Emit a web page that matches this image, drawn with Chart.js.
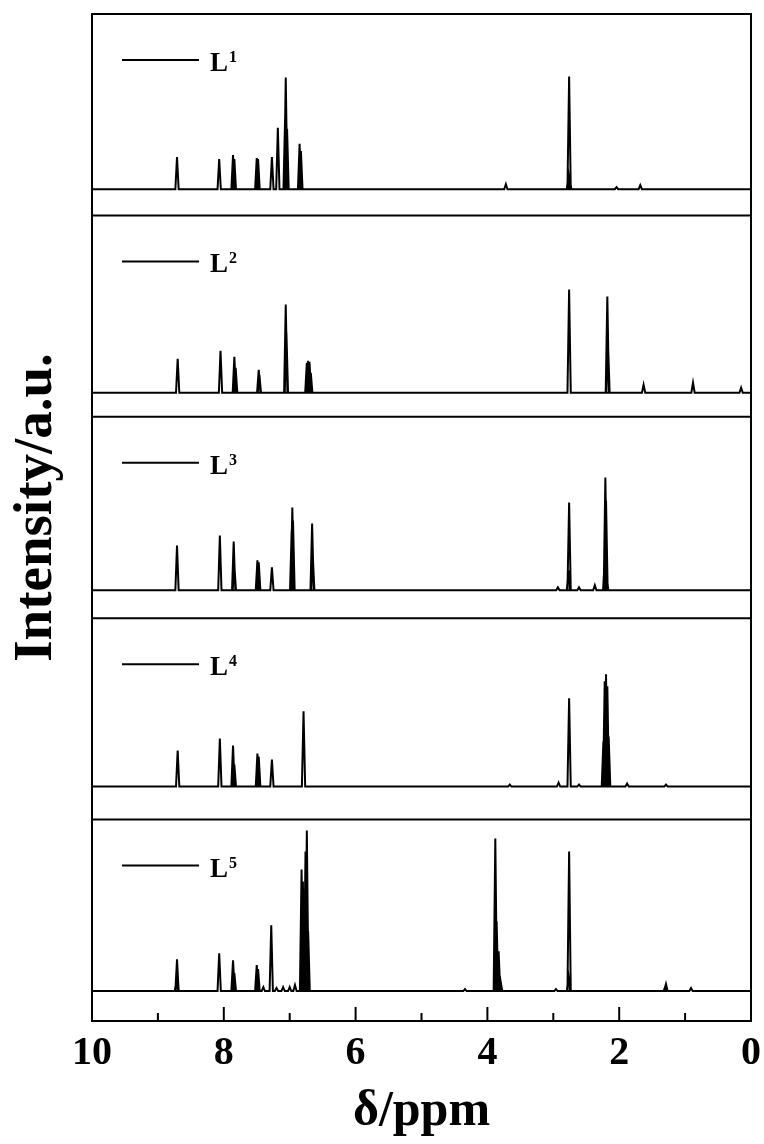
<!DOCTYPE html>
<html>
<head>
<meta charset="utf-8">
<script src="https://cdn.jsdelivr.net/npm/chart.js@4.4.0/dist/chart.umd.min.js"></script>
<style>
  html, body { margin: 0; padding: 0; background: #fff; overflow: hidden; }
  canvas { display: block; }
</style>
</head>
<body>
<canvas id="nmrCanvas" width="764" height="1144"></canvas>
<script>
// compounds, top panel first
const compounds = ['L1', 'L2', 'L3', 'L4', 'L5'];
const xTickLabels = [10, 8, 6, 4, 2, 0];

// [shift in ppm, peak height]
const peaksL1 = [[8.71, 32], [8.07, 30], [7.86, 34], [7.84, 30], [7.50, 31], [7.48, 30], [7.27, 32], [7.18, 61],
  [7.07, 70], [7.06, 111], [7.04, 60], [6.85, 45], [6.83, 38], [3.72, 5], [2.77, 15], [2.76, 112], [2.75, 10],
  [2.04, 2], [1.68, 4]];
const peaksL2 = [[8.70, 34], [8.05, 42], [7.84, 36], [7.82, 25], [7.47, 23], [7.46, 18], [7.06, 88], [7.05, 60],
  [6.74, 30], [6.72, 32], [6.70, 31], [6.68, 20], [2.76, 103], [2.18, 96], [2.17, 50], [1.63, 8], [0.88, 10], [0.15, 5]];
const peaksL3 = [[8.71, 45], [8.06, 55], [7.85, 49], [7.84, 25], [7.49, 30], [7.47, 28], [7.27, 23], [6.97, 60],
  [6.96, 83], [6.95, 70], [6.66, 67], [6.65, 35], [2.93, 3], [2.77, 20], [2.76, 88], [2.61, 3], [2.37, 5],
  [2.22, 30], [2.21, 113], [2.20, 90], [2.19, 15]];
const peaksL4 = [[8.70, 36], [8.06, 48], [7.86, 41], [7.84, 22], [7.49, 33], [7.47, 30], [7.27, 27], [6.79, 75],
  [3.66, 2], [2.92, 4], [2.76, 88], [2.61, 2], [2.24, 45], [2.22, 105], [2.20, 112], [2.18, 100], [2.16, 50],
  [1.88, 3], [1.29, 2]];
const peaksL5 = [[8.72, 10], [8.71, 32], [8.07, 38], [7.86, 31], [7.84, 18], [7.50, 26], [7.48, 22], [7.40, 4],
  [7.28, 66], [7.20, 3], [7.10, 4], [7.00, 4], [6.92, 6], [6.82, 122], [6.80, 110], [6.78, 95], [6.76, 140],
  [6.74, 161], [6.72, 60], [4.34, 2], [3.88, 153], [3.86, 70], [3.83, 40], [3.80, 10], [2.96, 2], [2.77, 15],
  [2.76, 140], [1.30, 5], [1.29, 7], [0.91, 3]];
const allPeaks = [peaksL1, peaksL2, peaksL3, peaksL4, peaksL5];

// panel room below / above the baseline (same units as heights)
const roomBelow = [26, 24, 28, 33, 30];
const roomAbove = [174, 177, 174, 168, 172];

const serif = '"Liberation Serif", "Times New Roman", serif';
const halfWidth = 0.025;

function buildTrace(peaks) {
    const pts = [{ x: 10, y: 0 }];
    peaks.forEach(function (p) {
        pts.push({ x: p[0] + halfWidth, y: 0 });
        pts.push({ x: p[0], y: p[1] });
        pts.push({ x: p[0] - halfWidth, y: 0 });
    });
    pts.push({ x: 0, y: 0 });
    return pts;
}

const datasets = compounds.map(function (name, i) {
    return {
        label: name,
        data: buildTrace(allPeaks[i]),
        yAxisID: 'y' + (i + 1),
        borderColor: '#000',
        borderWidth: 2,
        pointRadius: 0,
        fill: false,
        tension: 0
    };
});

const scales = {
    x: {
        type: 'linear',
        min: 0,
        max: 10,
        reverse: true,
        // invisible tick marks only push the labels down (inward ticks are drawn below)
        grid: { display: true, drawOnChartArea: false, drawTicks: true, tickLength: 13, tickColor: 'rgba(0,0,0,0)' },
        border: { display: false },
        ticks: {
            stepSize: 1,
            autoSkip: false,
            maxRotation: 0,
            padding: 0,
            color: '#000',
            font: { family: serif, size: 40, weight: 'bold', lineHeight: 1 },
            callback: function (v) { return xTickLabels.includes(v) ? String(v) : ''; }
        },
        title: {
            display: true,
            text: 'δ/ppm',
            color: '#000',
            font: { family: serif, size: 50, weight: 'bold', lineHeight: 1 },
            padding: { top: 13, bottom: 0 }
        }
    }
};
compounds.forEach(function (name, i) {
    scales['y' + (i + 1)] = {
        type: 'linear',
        display: false,
        position: 'left',
        stack: 'nmr',
        stackWeight: 1,
        weight: compounds.length - i,
        min: -roomBelow[i],
        max: roomAbove[i]
    };
});

// frame, panel dividers, inward ticks, legends and y title
const panelFrame = {
    id: 'panelFrame',
    afterDraw(chart) {
        const ctx = chart.ctx;
        const a = chart.chartArea;
        const xs = chart.scales.x;
        ctx.save();
        ctx.strokeStyle = '#000';
        ctx.fillStyle = '#000';
        ctx.lineWidth = 2;
        ctx.strokeRect(a.left, a.top, a.right - a.left, a.bottom - a.top);

        compounds.forEach(function (name, i) {
            const ys = chart.scales['y' + (i + 1)];
            if (ys.bottom < a.bottom - 2) {
                ctx.beginPath();
                ctx.moveTo(a.left, ys.bottom);
                ctx.lineTo(a.right, ys.bottom);
                ctx.stroke();
            }
        });

        xs.ticks.forEach(function (t) {
            const px = xs.getPixelForValue(t.value);
            const len = xTickLabels.includes(t.value) ? 14 : 8;
            ctx.beginPath();
            ctx.moveTo(px, a.bottom);
            ctx.lineTo(px, a.bottom - len);
            ctx.stroke();
        });

        chart.data.datasets.forEach(function (ds) {
            const ys = chart.scales[ds.yAxisID];
            const y = ys.top + 46;
            ctx.beginPath();
            ctx.moveTo(a.left + 30, y);
            ctx.lineTo(a.left + 107, y);
            ctx.stroke();
            ctx.textAlign = 'left';
            ctx.textBaseline = 'alphabetic';
            ctx.font = 'bold 27px ' + serif;
            const base = ds.label.charAt(0);
            ctx.fillText(base, a.left + 118, y + 11);
            const w = ctx.measureText(base).width;
            ctx.font = 'bold 16px ' + serif;
            ctx.fillText(ds.label.slice(1), a.left + 119 + w, y + 2);
        });

        ctx.translate(37, (a.top + a.bottom) / 2 - 10);
        ctx.rotate(-Math.PI / 2);
        ctx.textAlign = 'center';
        ctx.textBaseline = 'middle';
        ctx.font = 'bold 55px ' + serif;
        ctx.fillText('Intensity/a.u.', 0, 0);
        ctx.restore();
    }
};

const ctx = document.getElementById('nmrCanvas').getContext('2d');
const nmrChart = new Chart(ctx, {
    type: 'line',
    data: { datasets: datasets },
    options: {
        responsive: false,
        animation: false,
        devicePixelRatio: 1,
        layout: { autoPadding: false, padding: { left: 92, right: 13, top: 14, bottom: 7 } },
        plugins: {
            legend: { display: false },
            tooltip: { enabled: false }
        },
        scales: scales
    },
    plugins: [panelFrame]
});
</script>
</body>
</html>
